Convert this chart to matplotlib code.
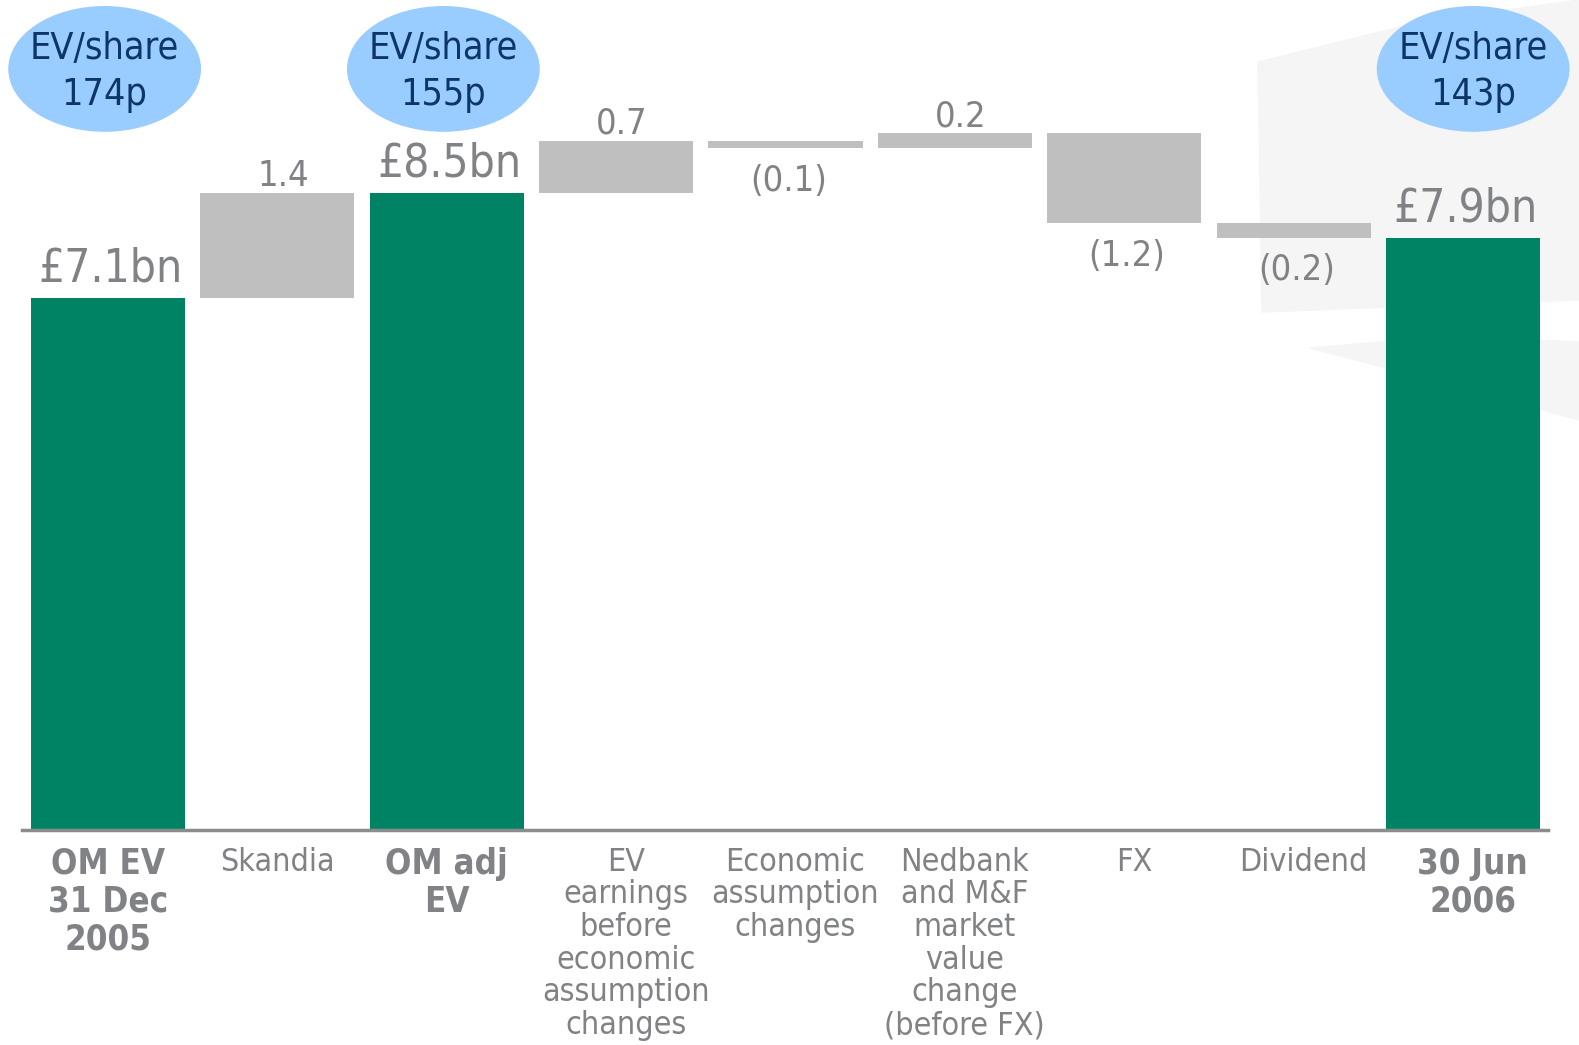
import numpy as np
import matplotlib.pyplot as plt
import matplotlib.transforms as mtransforms
from matplotlib.patches import Ellipse, Polygon

# waterfall data (GBP bn)
categories = ['OM EV\n31 Dec\n2005', 'Skandia', 'OM adj\nEV',
              'EV\nearnings\nbefore\neconomic\nassumption\nchanges',
              'Economic\nassumption\nchanges',
              'Nedbank\nand M&F\nmarket\nvalue\nchange\n(before FX)',
              'FX', 'Dividend', '30 Jun\n2006']
values = [7.1, 1.4, 8.5, 0.7, -0.1, 0.2, -1.2, -0.2, 7.9]
is_total = [True, False, True, False, False, False, False, False, True]
value_labels = ['£7.1bn', '1.4', '£8.5bn', '0.7', '(0.1)', '0.2', '(1.2)', '(0.2)', '£7.9bn']
ev_share_idx = [0, 2, 8]
ev_share_text = ['EV/share\n174p', 'EV/share\n155p', 'EV/share\n143p']

green = '#008265'
grey_bar = '#bfbfbf'
txt = '#808285'
navy = '#0d3566'
plt.rcParams['font.family'] = ['DejaVu Sans']
plt.rcParams['font.stretch'] = 'condensed'

W, H = 1579, 1045
fig = plt.figure(figsize=(W / 100, H / 100), dpi=100)

# faint watermark in the right background
def px(pts):
    return [(a / W, 1 - b / H) for a, b in pts]
fig.add_artist(Polygon(px([(1258, 62), (1420, 22), (1579, 0), (1579, 300), (1262, 312)]),
                       closed=True, color='#f5f5f5', transform=fig.transFigure, zorder=0))
fig.add_artist(Polygon(px([(1310, 348), (1450, 336), (1579, 342), (1579, 420), (1440, 382)]),
                       closed=True, color='#f5f5f5', transform=fig.transFigure, zorder=0))

ax = fig.add_axes([22 / W, 1 - 830 / H, (1548 - 22) / W, 830 / H])
ax.patch.set_alpha(0)

x = np.arange(len(values))
bottoms = []
heights = []
running = 0.0
for v, tot in zip(values, is_total):
    if tot:
        bottoms.append(0)
        heights.append(v)
        running = v
    else:
        bottoms.append(min(running, running + v))
        heights.append(abs(v))
        running += v

colors = [green if t else grey_bar for t in is_total]
ax.bar(x, heights, bottom=bottoms, width=0.91, color=colors, zorder=2)

for i, (v, t) in enumerate(zip(values, is_total)):
    top = bottoms[i] + heights[i]
    if t:
        ax.annotate(value_labels[i], (x[i], top), xytext=(2, 5), textcoords='offset points',
                    ha='center', va='bottom', fontsize=33, color=txt)
    elif v >= 0:
        ax.annotate(value_labels[i], (x[i], top), xytext=(4, 0), textcoords='offset points',
                    ha='center', va='bottom', fontsize=26, color=txt)
    else:
        ax.annotate(value_labels[i], (x[i], bottoms[i]), xytext=(2, -11), textcoords='offset points',
                    ha='center', va='top', fontsize=26, color=txt)

# EV/share bubbles
for i, s in zip(ev_share_idx, ev_share_text):
    cx = x[i] - 0.02 if i < 8 else x[i] + 0.06
    ax.add_patch(Ellipse((cx, 10.16), 1.13, 1.66, color='#99ccff', clip_on=False, zorder=3))
    ax.text(cx, 10.12, s, ha='center', va='center', fontsize=27, color=navy,
            linespacing=1.35, zorder=4)

ax.set_xlim(-0.508, 8.502)
ax.set_ylim(0, 11.08)
ax.set_yticks([])
ax.set_xticks(x, categories)
ax.tick_params(axis='x', length=0, pad=12)
for k, (lbl, t) in enumerate(zip(ax.get_xticklabels(), is_total)):
    lbl.set_color(txt)
    if k >= 3:
        lbl.set_transform(lbl.get_transform() +
                          mtransforms.ScaledTranslation(7 / 72, 0, fig.dpi_scale_trans))
    if t:
        lbl.set_fontsize(25)
        lbl.set_fontweight('bold')
        lbl.set_linespacing(1.15)
    else:
        lbl.set_fontsize(23)
        lbl.set_linespacing(1.07)

for sp in ['top', 'right', 'left']:
    ax.spines[sp].set_visible(False)
ax.spines['bottom'].set_color('#8c8c8c')
ax.spines['bottom'].set_linewidth(2.5)

fig.savefig('out.png', dpi=100)
